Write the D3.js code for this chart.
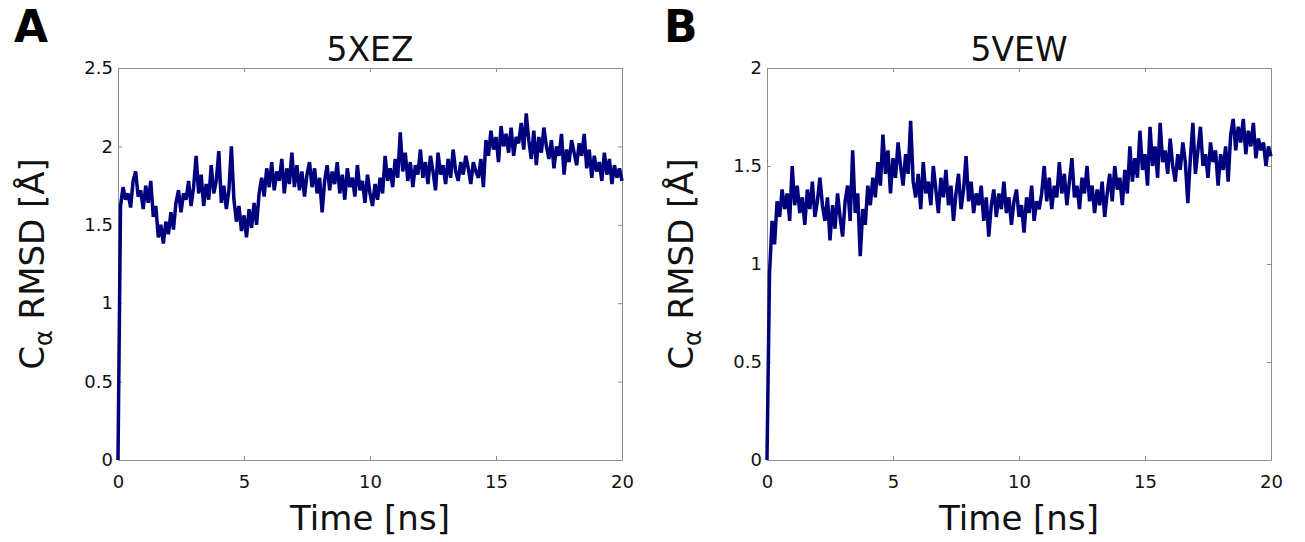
<!DOCTYPE html>
<html>
<head>
<meta charset="utf-8">
<script src="https://cdn.jsdelivr.net/npm/d3@7"></script>
<style>
	body { margin: 0; background: #fff; }
	svg { display: block; font-family: "DejaVu Sans", sans-serif; }
	.axis text { font-size: 18px; fill: #111; font-family: "DejaVu Sans", sans-serif; }
	.axis path, .axis line { stroke: #8e8e8e; }
</style>
</head>
<body>
<div id="chart"></div>
<script>
// RMSD traces, one sample every 0.1 ns (0 -> 20 ns)
var timeRange = [0, 20];
var xTicks = [0, 5, 10, 15, 20];

var rmsdA = [0,
	1.62, 1.74, 1.66, 1.70, 1.61, 1.78, 1.84, 1.68, 1.72, 1.60, 1.75, 1.64, 1.78,
	1.55, 1.62, 1.42, 1.50, 1.38, 1.52, 1.44, 1.58, 1.47,
	1.64, 1.72, 1.58, 1.70, 1.66, 1.78, 1.62, 1.74,
	1.94, 1.70, 1.82, 1.62, 1.76, 1.66, 1.88, 1.70, 1.78, 1.97, 1.64, 1.75, 1.60, 1.72, 2.00, 1.66,
	1.52, 1.62, 1.46, 1.56, 1.42, 1.60, 1.48, 1.64, 1.50, 1.70,
	1.80, 1.68, 1.86, 1.74, 1.90, 1.72, 1.84, 1.78, 1.92, 1.70, 1.86, 1.76, 1.96, 1.74,
	1.88, 1.72, 1.84, 1.68, 1.82, 1.90, 1.74, 1.86, 1.70, 1.80, 1.58, 1.78, 1.88, 1.72, 1.84,
	1.76, 1.90, 1.70, 1.82, 1.66, 1.86, 1.74, 1.80, 1.68, 1.88, 1.72, 1.78, 1.64, 1.82, 1.70,
	1.62, 1.76, 1.66, 1.80, 1.70, 1.94,
	1.78, 1.86, 1.74, 1.92, 1.80, 2.09, 1.84, 1.96, 1.78, 1.90, 1.74, 1.88, 1.82, 1.98,
	1.80, 1.90, 1.76, 1.94, 1.84, 1.72, 1.96, 1.82, 1.88, 1.76, 1.92, 1.80, 1.98, 1.84, 1.78,
	1.90, 1.82, 1.94, 1.86, 1.76, 1.90, 1.84, 1.80, 1.92, 1.74,
	2.04, 1.94, 2.10, 1.98, 2.06, 1.90, 2.13, 2.00, 2.08, 1.96, 2.12, 1.94, 2.06, 2.02, 2.15,
	1.98, 2.21, 2.04, 1.92, 2.10, 1.88, 2.06, 1.96, 2.12, 2.00,
	1.92, 2.04, 1.86, 2.00, 1.94, 2.08, 1.82, 1.98, 1.90, 2.04, 1.96, 1.88, 2.02, 1.94, 2.08,
	1.86, 1.98, 1.80, 1.94, 1.84, 1.90, 1.78, 1.96, 1.82, 1.92, 1.76, 1.88, 1.80, 1.86, 1.78
];

var rmsdB = [0,
	0.95, 1.22, 1.10, 1.32,
	1.24, 1.38, 1.28, 1.36, 1.22, 1.50, 1.30, 1.40, 1.26, 1.34, 1.20, 1.38, 1.28, 1.42, 1.24, 1.32, 1.44, 1.30,
	1.22, 1.34, 1.12, 1.30, 1.18, 1.36, 1.24, 1.14, 1.32, 1.40, 1.22, 1.58, 1.26, 1.36, 1.04, 1.28, 1.20, 1.40, 1.30, 1.44, 1.34,
	1.52, 1.40, 1.66, 1.46, 1.58, 1.36, 1.54, 1.44, 1.62, 1.50, 1.40, 1.56, 1.46, 1.73, 1.42,
	1.34, 1.46, 1.28, 1.52, 1.36, 1.42, 1.30, 1.50, 1.38, 1.26, 1.44, 1.34, 1.48, 1.30, 1.40,
	1.22, 1.36, 1.46, 1.28, 1.38, 1.55, 1.32, 1.42, 1.26, 1.36,
	1.30, 1.40, 1.22, 1.34, 1.14, 1.30, 1.38, 1.24, 1.36, 1.28, 1.42, 1.26, 1.34, 1.20, 1.32,
	1.38, 1.24, 1.30, 1.16, 1.34, 1.26, 1.40, 1.22, 1.32, 1.28, 1.36, 1.50,
	1.32, 1.44, 1.28, 1.40, 1.34, 1.52, 1.36, 1.46, 1.30, 1.42, 1.54, 1.34, 1.40, 1.28, 1.44, 1.36, 1.50, 1.32, 1.40, 1.26,
	1.38, 1.30, 1.42, 1.24, 1.36, 1.46, 1.32, 1.50, 1.38, 1.44, 1.30, 1.48, 1.36, 1.60, 1.42,
	1.54, 1.44, 1.68, 1.48, 1.56, 1.40, 1.70, 1.50, 1.60, 1.44, 1.72, 1.52, 1.58, 1.46, 1.64, 1.50, 1.42, 1.56, 1.48,
	1.62, 1.52, 1.31, 1.54, 1.72, 1.46, 1.58, 1.70, 1.50, 1.56, 1.44, 1.62, 1.52, 1.58, 1.40, 1.56, 1.48, 1.60, 1.42,
	1.66, 1.74, 1.58, 1.70, 1.62, 1.74, 1.56, 1.68, 1.60, 1.72, 1.54, 1.64, 1.58, 1.62, 1.50, 1.60, 1.55
];

var yTicksA = [0, 0.5, 1, 1.5, 2, 2.5];
var yTicksB = [0, 0.5, 1, 1.5, 2];

var width = 1305, height = 542;

var svg = d3.select("#chart")
	.append("svg")
	.attr("width", width)
	.attr("height", height);

function drawPanel(opts) {
	var x = d3.scaleLinear().domain(timeRange).range([opts.left, opts.right]);
	var y = d3.scaleLinear().domain([0, opts.ymax]).range([opts.bottom, opts.top]);
	var n = opts.data.length;
	var step = (timeRange[1] - timeRange[0]) / (n - 1);

	var g = svg.append("g");

	// box + inward ticks on all four sides, matlab style
	g.append("g").attr("class", "axis")
		.attr("transform", "translate(0," + opts.bottom + ")")
		.call(d3.axisBottom(x).tickValues(xTicks).tickSize(-4).tickSizeOuter(0).tickPadding(15).tickFormat(d3.format("d")));
	g.append("g").attr("class", "axis")
		.attr("transform", "translate(0," + opts.top + ")")
		.call(d3.axisTop(x).tickValues(xTicks).tickSize(-4).tickSizeOuter(0).tickFormat(""));
	g.append("g").attr("class", "axis")
		.attr("transform", "translate(" + opts.left + ",0)")
		.call(d3.axisLeft(y).tickValues(opts.yTicks).tickSize(-4).tickSizeOuter(0).tickPadding(5).tickFormat(function(d) { return String(d); }));
	g.append("g").attr("class", "axis")
		.attr("transform", "translate(" + opts.right + ",0)")
		.call(d3.axisRight(y).tickValues(opts.yTicks).tickSize(-4).tickSizeOuter(0).tickFormat(""));

	var line = d3.line()
		.x(function(d, i) { return x(timeRange[0] + i * step); })
		.y(function(d) { return y(d); });

	g.append("path")
		.datum(opts.data)
		.attr("d", line)
		.attr("fill", "none")
		.attr("stroke", "#00007f")
		.attr("stroke-width", 3.5)
		.attr("stroke-linejoin", "miter")
		.attr("stroke-miterlimit", 2);

	var cx = (opts.left + opts.right) / 2;

	g.append("text")
		.attr("x", cx).attr("y", 61)
		.attr("text-anchor", "middle")
		.attr("font-size", 33)
		.attr("fill", "#111")
		.text(opts.title);

	g.append("text")
		.attr("x", cx).attr("y", 530)
		.attr("text-anchor", "middle")
		.attr("font-size", 34)
		.attr("fill", "#111")
		.text("Time [ns]");

	var yl = g.append("text")
		.attr("transform", "translate(" + (opts.left - 74) + "," + ((opts.top + opts.bottom) / 2) + ") rotate(-90)")
		.attr("text-anchor", "middle")
		.attr("font-size", 34)
		.attr("fill", "#111");
	yl.append("tspan").text("C");
	yl.append("tspan").attr("font-size", 24).attr("dy", 8).text("α");
	yl.append("tspan").attr("dy", -8).text(" RMSD [Å]");

	g.append("text")
		.attr("x", opts.letterX).attr("y", 42)
		.attr("font-size", 44)
		.attr("font-weight", "bold")
		.attr("fill", "#000")
		.text(opts.letter);
}

drawPanel({ data: rmsdA, title: "5XEZ", letter: "A", letterX: 14,
	left: 118, right: 622, top: 68, bottom: 460, ymax: 2.5, yTicks: yTicksA });
drawPanel({ data: rmsdB, title: "5VEW", letter: "B", letterX: 664,
	left: 767, right: 1271, top: 68, bottom: 460, ymax: 2, yTicks: yTicksB });
</script>
</body>
</html>
